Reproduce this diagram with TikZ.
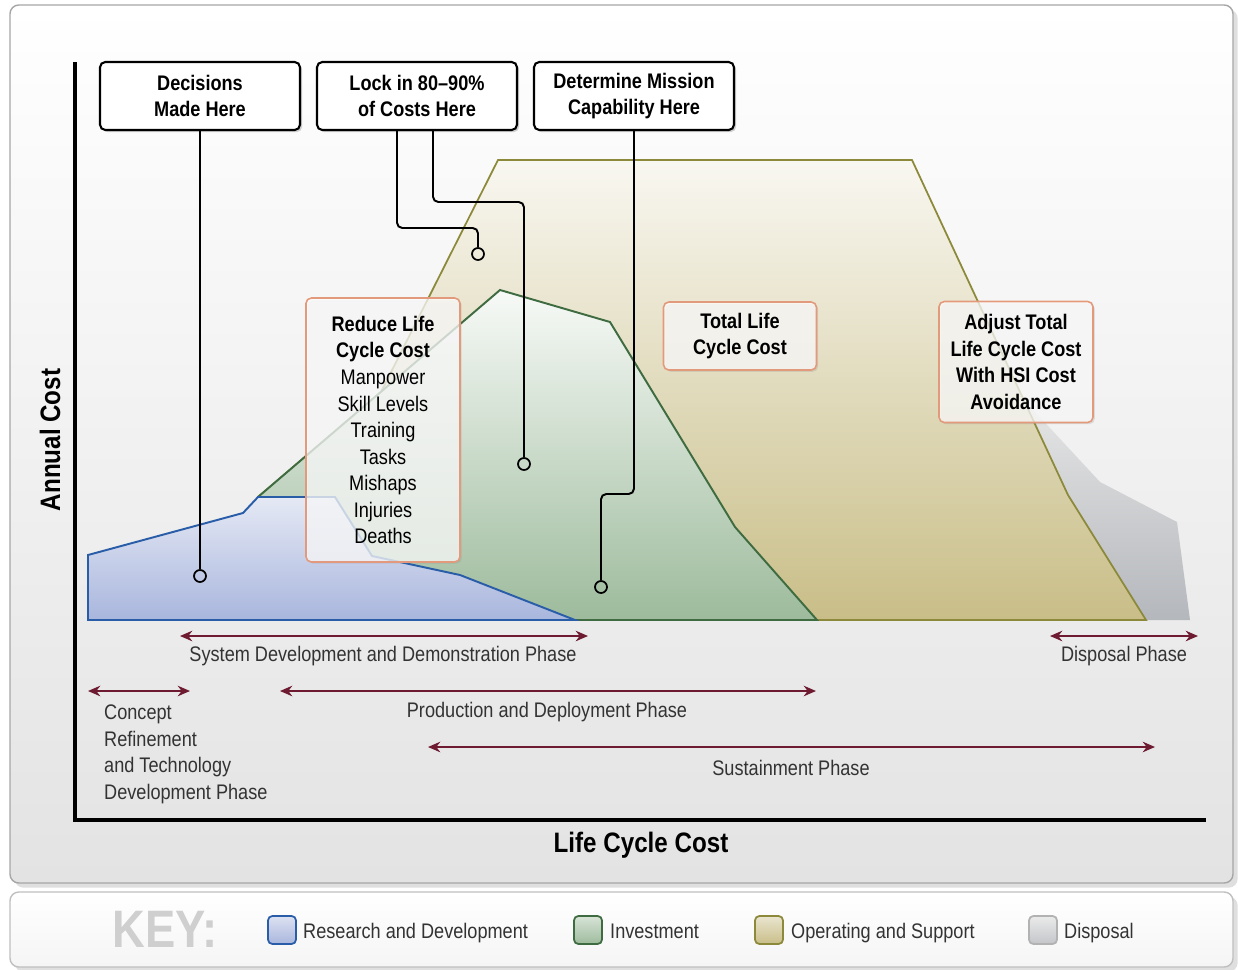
\documentclass[tikz,border=0pt]{standalone}
\usepackage{fontspec}
\setmainfont{Liberation Sans}[FakeStretch=0.86]
\usetikzlibrary{arrows.meta, shadows}

\definecolor{rdline}{HTML}{2A5DA8}
\definecolor{rdfill}{HTML}{A9B6DD}
\definecolor{invline}{HTML}{3E6B40}
\definecolor{invfill}{HTML}{9DBB9C}
\definecolor{osline}{HTML}{8C8A3A}
\definecolor{osfill}{HTML}{C9BE88}
\definecolor{dspfill}{HTML}{B4B7BC}
\definecolor{phasecol}{HTML}{6E1B32}
\definecolor{notecol}{HTML}{E39A7C}
\definecolor{keygray}{HTML}{CFCFCF}

\newcommand{\txt}{\fontsize{12}{15.1}\selectfont}

\begin{document}
\begin{tikzpicture}[x=0.02cm, y=-0.02cm,
    callout/.style={draw=black, line width=1.2pt, rounded corners=3pt, fill=white,
        drop shadow={opacity=0.35, shadow xshift=1.2pt, shadow yshift=-1.2pt},
        align=center, font=\txt\bfseries, minimum width=4cm, minimum height=1.36cm},
    note/.style={draw=notecol, line width=0.9pt, rounded corners=3pt, fill=white,
        fill opacity=0.72, text opacity=1, align=center, font=\txt,
        drop shadow={opacity=0.2, shadow xshift=1pt, shadow yshift=-1pt}},
    pin/.style={circle, draw=black, line width=1pt, minimum size=0.24cm, inner sep=0pt},
    lead/.style={draw=black, line width=1.1pt, rounded corners=3pt},
    span/.style={{Stealth[length=7pt, width=6pt]}-{Stealth[length=7pt, width=6pt]},
        draw=phasecol, line width=1pt},
    phase/.style={font=\txt, text=black!80},
    swatch/.style={rounded corners=2.5pt, line width=1pt, minimum size=0.56cm},
    keytxt/.style={font=\txt, text=black!80, anchor=base west}]
    %
    \useasboundingbox (0,0) rectangle (1238,970);
    % panels
    \shade[top color=white, bottom color=black!11, draw=black!35, line width=0.8pt,
        rounded corners=5pt, drop shadow={opacity=0.25}] (10,5) rectangle (1233,883);
    \shade[top color=white, bottom color=black!4, draw=black!25, line width=0.8pt,
        rounded corners=5pt, drop shadow={opacity=0.25}] (10,892) rectangle (1233,967);
    %
    % cost areas
    \shade[top color=black!10, bottom color=dspfill] (1024,400) -- (1100,482) -- (1177,522)
        -- (1190,620) -- (1100,620) -- cycle;
    \shade[top color=osfill!12, bottom color=osfill, draw=osline, line width=1pt]
        (258,497) -- (381,392) -- (498,160) -- (912,160) -- (1068,495) -- (1146,620)
        -- (258,620) -- cycle;
    \shade[top color=invfill!8, bottom color=invfill, draw=invline, line width=1.1pt]
        (258,497) -- (500,290) -- (610,322) -- (735,527) -- (817,620) -- (258,620) -- cycle;
    \shade[top color=rdfill!30, bottom color=rdfill, draw=rdline, line width=1.1pt]
        (88,620) -- (88,555) -- (243,513) -- (258,497) -- (335,497) -- (372,556)
        -- (460,575) -- (575,620) -- cycle;
    %
    % axes
    \draw[line width=1.8pt] (75,62) -- (75,820) -- (1206,820);
    \node[rotate=90, font=\fontsize{16}{18}\selectfont\bfseries] (ylab) at (50,440) {Annual Cost};
    \node[font=\fontsize{16}{18}\selectfont\bfseries] (xlab) at (641,845) {Life Cycle Cost};
    %
    % notes
    \node[note, minimum width=3.08cm, minimum height=5.28cm] (reduce) at (383,430)
        {\textbf{Reduce Life}\\\textbf{Cycle Cost}\\Manpower\\Skill Levels\\Training\\Tasks\\Mishaps\\Injuries\\Deaths};
    \node[note, minimum width=3.06cm, minimum height=1.36cm] (total) at (740,336)
        {\textbf{Total Life}\\\textbf{Cycle Cost}};
    \node[note, minimum width=3.08cm, minimum height=2.42cm] (adjust) at (1016,362)
        {\textbf{Adjust Total}\\\textbf{Life Cycle Cost}\\\textbf{With HSI Cost}\\\textbf{Avoidance}};
    %
    % callouts and pins
    \node[callout] (dec) at (200,96) {Decisions\\Made Here};
    \node[callout] (lock) at (417,96) {Lock in 80--90\%\\of Costs Here};
    \node[callout] (det) at (634,96) {Determine Mission\\Capability Here};
    \node[pin] (p1) at (200,576) {};
    \node[pin] (p2) at (478,254) {};
    \node[pin] (p3) at (524,464) {};
    \node[pin] (p4) at (601,587) {};
    \coordinate (b2) at (478,228);
    \coordinate (b3) at (524,202);
    \coordinate (b4) at (601,494);
    \draw[lead] (dec.south) -- (p1.north);
    \draw[lead] ([xshift=-0.4cm]lock.south) |- (b2) -- (p2.north);
    \draw[lead] ([xshift=0.32cm]lock.south) |- (b3) -- (p3.north);
    \draw[lead] (det.south) |- (b4) -- (p4.north);
    %
    % phases
    \coordinate (sd1) at (180,636); \coordinate (sd2) at (588,636);
    \coordinate (dp1) at (1050,636); \coordinate (dp2) at (1198,636);
    \coordinate (cr1) at (88,691); \coordinate (cr2) at (190,691);
    \coordinate (pd1) at (280,691); \coordinate (pd2) at (816,691);
    \coordinate (su1) at (428,747); \coordinate (su2) at (1155,747);
    \draw[span] (sd1) -- (sd2);
    \draw[span] (dp1) -- (dp2);
    \draw[span] (cr1) -- (cr2);
    \draw[span] (pd1) -- (pd2);
    \draw[span] (su1) -- (su2);
    \node[phase] (sdl) at (383,656) {System Development and Demonstration Phase};
    \node[phase] (dpl) at (1124,656) {Disposal Phase};
    \node[phase, align=left, anchor=north west] (crl) at (98,699)
        {Concept\\Refinement\\and Technology\\Development Phase};
    \node[phase] (pdl) at (547,712) {Production and Deployment Phase};
    \node[phase] (sul) at (791,768) {Sustainment Phase};
    %
    % key
    \node[font=\fontsize{30}{30}\selectfont\bfseries, text=keygray] (key) at (165,929) {KEY:};
    \node[swatch, draw=rdline, top color=rdfill!40, bottom color=rdfill] (k1) at (282,930) {};
    \node[swatch, draw=invline, top color=invfill!40, bottom color=invfill] (k2) at (588,930) {};
    \node[swatch, draw=osline, top color=osfill!40, bottom color=osfill] (k3) at (769,930) {};
    \node[swatch, draw=black!30, top color=black!8, bottom color=dspfill!80] (k4) at (1043,930) {};
    \node[keytxt] (k1l) at (297,938) {Research and Development};
    \node[keytxt] (k2l) at (604,938) {Investment};
    \node[keytxt] (k3l) at (785,938) {Operating and Support};
    \node[keytxt] (k4l) at (1058,938) {Disposal};
\end{tikzpicture}
\end{document}
